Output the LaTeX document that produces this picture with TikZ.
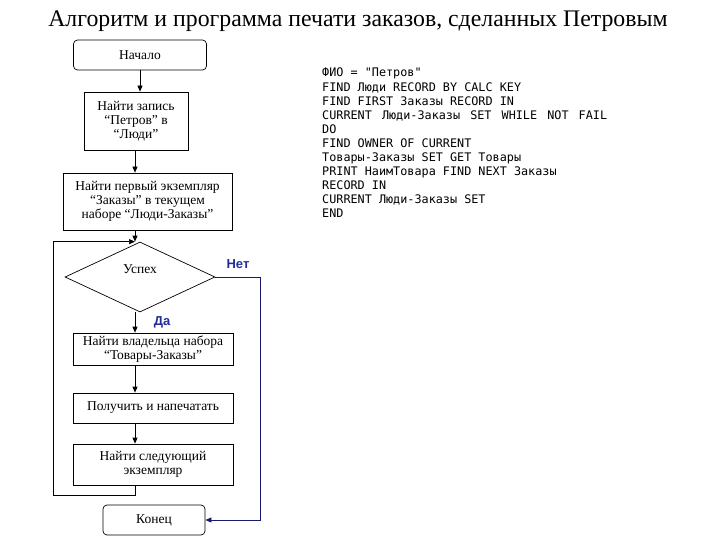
\documentclass[tikz,border=0pt]{standalone}
\usepackage{fontspec}
\setmainfont{Liberation Serif}
\newfontfamily\codefont{DejaVu Sans Mono}
\newfontfamily\labelfont{Liberation Sans}
\usetikzlibrary{shapes.geometric,arrows.meta}
\definecolor{navyline}{RGB}{25,25,110}
\definecolor{labelblue}{RGB}{35,45,150}

\tikzset{
  block/.style={draw, line width=0.7pt, align=center, inner sep=2pt,
    font=\fontsize{13.5}{14}\selectfont},
  term/.style={block, rounded corners=4pt, minimum height=30pt},
  test/.style={draw, diamond, line width=0.7pt, minimum width=150pt,
    minimum height=70pt, inner sep=0pt, text depth=15pt,
    font=\fontsize{13.5}{14}\selectfont},
  flow/.style={-{Triangle[length=6pt,width=5pt]}, line width=0.7pt},
  yesno/.style={font=\labelfont\bfseries\fontsize{13}{13}\selectfont, text=labelblue},
}

\begin{document}
\begin{tikzpicture}[x=1pt, y=-1pt]
  \useasboundingbox (0,0) rectangle (720,540);

  % Title
  \node[font=\fontsize{23.8}{24}\selectfont] (title) at (358,21)
    {Алгоритм и программа печати заказов, сделанных Петровым};

  % Flowchart blocks
  \node[term, minimum width=133pt] (start) at (140,55) {Начало};
  \node[block, minimum width=104pt, minimum height=58pt] (find) at (136,121)
    {Найти запись\\“Петров” в\\“Люди”};
  \node[block, minimum width=169pt, minimum height=57pt] (first) at (147.5,201.5)
    {Найти первый экземпляр\\“Заказы” в текущем\\наборе “Люди-Заказы”};
  \node[test] (cond) at (140,277) {Успех};
  \node[block, minimum width=160pt, minimum height=32pt] (owner) at (153,349)
    {Найти владельца набора\\“Товары-Заказы”};
  \node[block, minimum width=160pt, minimum height=30pt] (get) at (153,408)
    {Получить и напечатать};
  \node[block, minimum width=160pt, minimum height=41pt] (next) at (153,464.5)
    {Найти следующий\\экземпляр};
  \node[term, minimum width=102pt] (stop) at (154,520) {Конец};

  % Branch labels
  \node[yesno] (no) at (238,264) {Нет};
  \node[yesno] (yes) at (162,322) {Да};

  % Connectors
  \coordinate (axis) at (135,0);
  \coordinate (loopl) at (53,495);
  \coordinate (noright) at (260,0);
  \draw[flow] (start.south) -- (start.south |- find.north);
  \draw[flow] (axis |- find.south) -- (axis |- first.north);
  \draw[flow] (axis |- first.south) -- (axis |- cond.north);
  \draw[flow] (axis |- cond.south) -- (axis |- owner.north);
  \draw[flow] (axis |- owner.south) -- (axis |- get.north);
  \draw[flow] (axis |- get.south) -- (axis |- next.north);
  \draw[flow] (axis |- next.south) |- (loopl) |- (axis |- cond.north);
  \draw[flow, navyline] (cond.east) -| (noright |- stop.east) -- (stop.east);

  % Program text
  \node[anchor=north west, align=left, inner sep=0pt,
    font=\codefont\fontsize{11.8}{14.1}\selectfont] (code) at (322,68)
    {ФИО = "Петров"\\
     FIND Люди RECORD BY CALC KEY\\
     FIND FIRST Заказы RECORD IN\\
     CURRENT\hspace{3pt} Люди-Заказы\hspace{3pt} SET\hspace{3pt} WHILE\hspace{3pt} NOT\hspace{3pt} FAIL\\
     DO\\
     FIND OWNER OF CURRENT\\
     Товары-Заказы SET GET Товары\\
     PRINT НаимТовара FIND NEXT Заказы\\
     RECORD IN\\
     CURRENT Люди-Заказы SET\\
     END};
\end{tikzpicture}
\end{document}
